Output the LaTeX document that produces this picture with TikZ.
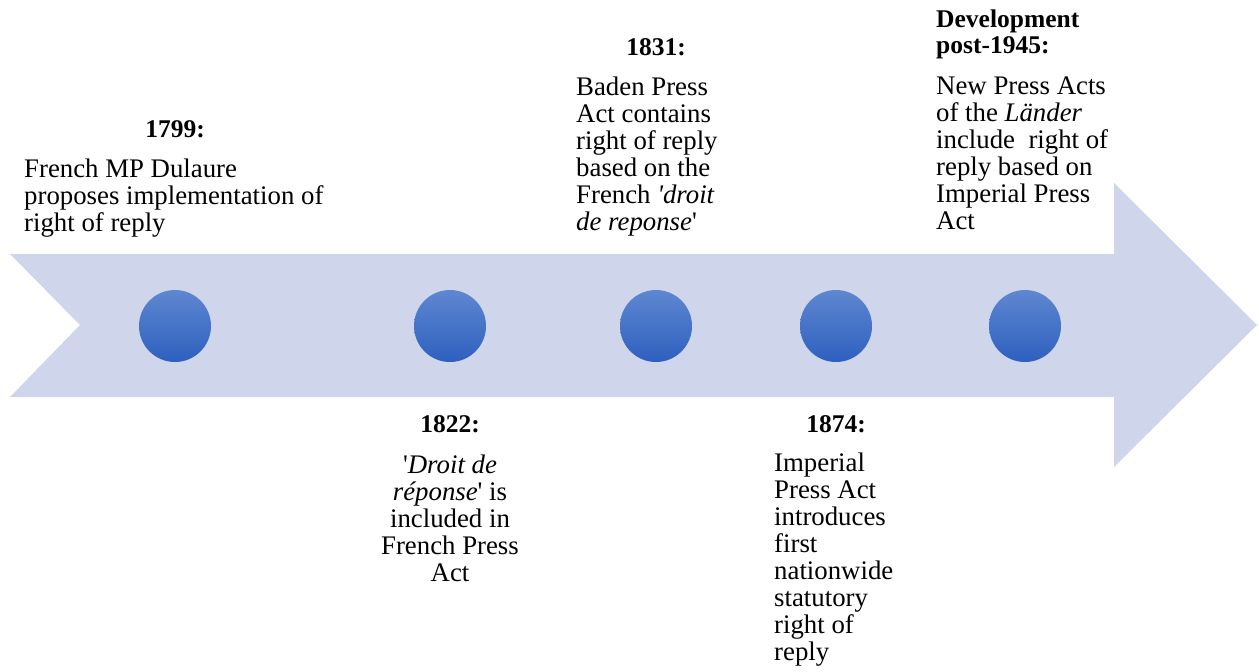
\documentclass[tikz,border=0pt]{standalone}
\usepackage{fontspec}
\setmainfont{Liberation Serif}[Ligatures=TeXOff]
\definecolor{arrowfill}{HTML}{CFD5EA}
\definecolor{dotTop}{HTML}{5F87D1}
\definecolor{dotBot}{HTML}{2D60BE}
\tikzset{
  dot/.style={circle, minimum size=72pt, inner sep=0pt, top color=dotTop, bottom color=dotBot, draw=none},
  yr/.style={font=\fontsize{25.5}{26}\selectfont\bfseries, inner sep=0pt},
  body/.style={font=\fontsize{26.8}{27}\selectfont, inner sep=0pt},
}
\begin{document}
\begin{tikzpicture}[x=1pt,y=-1pt]
\useasboundingbox (0,0) rectangle (1259,672);
% timeline arrow
\fill[arrowfill] (10,254) -- (1114,254) -- (1114,183) -- (1257,325) -- (1114,467)
  -- (1114,397) -- (10,397) -- (80,325) -- cycle;
% milestones
\node[dot] (d1) at (175,326) {};
\node[dot] (d2) at (450,326) {};
\node[dot] (d3) at (656,326) {};
\node[dot] (d4) at (836,326) {};
\node[dot] (d5) at (1025,326) {};
% 1799
\node[yr, anchor=north] (t1) at (175,120) {1799:};
\node[body, anchor=north west, align=left] (b1) at (24,159)
  {French MP Dulaure\\proposes implementation of\\right of reply};
% 1822
\node[yr, anchor=north] (t2) at (450,415) {1822:};
\node[body, anchor=north, align=center] (b2) at (450,455)
  {'\textit{Droit de}\\\textit{réponse}' is\\included in\\French Press\\Act};
% 1831
\node[yr, anchor=north] (t3) at (656,38) {1831:};
\node[body, anchor=north west, align=left] (b3) at (576,77)
  {Baden Press\\Act contains\\right of reply\\based on the\\French \textit{'droit}\\\textit{de reponse}'};
% 1874
\node[yr, anchor=north] (t4) at (836,415) {1874:};
\node[body, anchor=north west, align=left] (b4) at (774,453)
  {Imperial\\Press Act\\introduces\\first\\nationwide\\statutory\\right of\\reply};
% post-1945
\node[yr, anchor=north west, align=left] (t5) at (936,10) {Development\\post-1945:};
\node[body, anchor=north west, align=left] (b5) at (936,77)
  {New Press Acts\\of the \textit{Länder}\\include\ \ right of\\reply based on\\Imperial Press\\Act};
\end{tikzpicture}
\end{document}
